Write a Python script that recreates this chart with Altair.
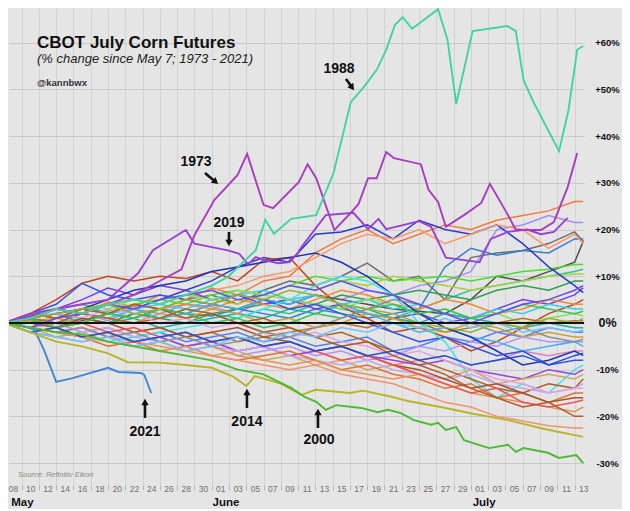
import json
import altair as alt
import pandas as pd

# ---------------- data ----------------
GRID_DAYS = [0, 3, 6, 9, 12, 15, 18, 21, 24, 27, 30, 33, 36, 39, 42, 45, 48, 51, 54, 57, 60, 63, 66, 67]

BACKGROUND = {
    1974: [0, 1.5, 3, 2, 4.5, 3.5, 6, 5, 7.5, 6, 9, 10, 15, 18, 20, 17, 19, 21, 20, 22, 23, 24, 26, 26],
    1975: [0, -1, 1, 2, 0.5, 3, 2, 4, 3.5, 2, 5, 4, 6, 5, 7, 6, 8, 9, 11, 20, 21, 23, 21.5, 21.5],
    1976: [0, 2, 1, 3, 2, 4, 3, 5, 6, 4, 7, 9, 8, 10, 12.8, 9, 10, 5, 14, 15, 15.5, 17, 19.5, 17.5],
    1977: [0, 1, -1, 0.5, 2, 1, 3, 2, 4, 3, 5, 4, 6, 5, 4, 3, 2.5, 2, 5, 10, 9, 11, 13, 17.5],
    1978: [0, 1, 2, 0, 2, 1, 3, 2, 1.5, 3, 2, 1, 3, 2, 1, 2, 3, 12, 16, 14.5, 15.5, 15, 18, 18],
    1979: [0, 1, 2, 3, 2.5, 4, 5, 4, 6, 7, 6, 8, 10, 9, 10, 9, 9.5, 10, 9, 10, 11, 11.5, 12.5, 12.5],
    1980: [0, -1, 0, 1, 0, 2, 1, 3, 2, 1, 3, 2, 4, 3, 2, 1, 3, 5, 7, 8, 9, 10, 11, 11.5],
    1981: [0, 2, 1, 3, 4, 3, 5, 6, 5, 4, 6, 8, 7, 9, 8, 10, 9, 8, 7, 8, 9, 10, 10.5, 10.5],
    1982: [0, 0.5, -1, 1, 0, 2, 1, 0, 2, 3, 4, 5, 4, 6, 5, 6, 7, 6, 5, 7, 8, 7, 9, 9],
    1983: [0, 1.5, 3, 5, 7.5, 6, 8, 7, 5, 6, 4, 5, 3, 4, 2, 1, 2, 0, 1, 3, 5, 4, 6, 7.5],
    1984: [0, 1, 3, 2, 4, 3, 5, 7, 9, 12, 14, 13, 19, 19.5, 21, 18, 22, 20, 19, 21, 17, 12, 8, 6.5],
    1985: [0, 2, 5, 8.5, 10, 9, 10, 9.5, 11, 9, 13.5, 14, 8, 3.5, 1, -2, -1, -3, -6, -4, -1, 2, 4, 5],
    1986: [0, -1, 1, 0, 2, 1, 3, 4, 3, 5, 4, 3, 5, 7, 6, 4, 3, 5, 4, 2, 3, 5, 4, 4],
    1987: [0, 1, 0, 2, 1, 3, 4, 3, 5, 6, 7, 5, 6, 4, 5, 3, 4, 2, 1, 3, 2, 4, 3, 3],
    1989: [0, 2, 3, 4, 3, 5, 4, 6, 5, 7, 6, 5, 4, 3, 5, 4, 2, 3, 1, 2, 0, 1, 2, 1.5],
    1990: [0, -1, -2, -1, -3, -2, -1, -3, -2, -4, -3, -2, -1, 0, -1, 1, 0, -2, -1, 0, 1, 0, 0.5, 0.5],
    1991: [0, 1, 2, 1, 0, 1, -1, 0, 1, 2, 1, 3, 2, 4, 3, 1, 0, 2, 1, 0, -1, 0, -1, -1],
    1992: [0, -1, 0, -2, -1, -3, -2, -4, -3, -2, -4, -3, -5, -4, -3, -6, -5, -3, -4, -2, -3, -1, -2, -2],
    1993: [0, 0.5, 1, 2, 1, 0, 2, 1, 3, 2, 0, 1, -1, 0, 2, 1, -1, -2, 0, -1, -3, -2, -3, -3],
    1994: [0, -2, -3, -4, -3, -5, -4, -6, -5, -7, -6, -5, -7, -6, -8, -7, -5, -6, -4, -5, -3, -4, -4, -4],
    1995: [0, 1, 3, 4, 2, 3, 1, 2, 4, 3, 5, 4, 6, 4, 2, 0, -2, -1, -3, -4, -6, -5, -4, -5],
    1996: [0, -1, -2, -1, -3, -4, -3, -5, -4, -6, -5, -7, -6, -8, -7, -9, -8, -7, -9, -8, -6, -7, -6, -6],
    1997: [0, 1, 2, 3, 5, 7, 8, 9, 11, 12, 13, 14, 15, 13, 10, 6, 2, -1, -3, -6, -9, -8, -6, -7],
    1998: [0, 2, 4, 8.5, 6, 5, 6, 5, 4, 6, 5, 3, 4, 2, 0, -2, -4, -3, -5, -7, -6, -9, -8, -8],
    1999: [0, -2, -3, -2, -4, -3, -2, -1, 0, 1, 3, 5, 8, 10, 9, 6, 0, -4, -12, -16, -13, -15, -10, -9],
    2001: [0, -1, -2, -3, -2, -4, -3, -5, -4, -6, -5, -7, -6, -5, -7, -8, -9, -8, -10, -11, -12, -10, -11, -10],
    2002: [0, -1, -3, -2, -4, -5, -4, -6, -7, -6, -8, -7, -9, -8, -10, -9, -11, -12, -10, -13, -12, -11, -12, -11],
    2003: [0, 1, 0, 2, 1, 0, 1, 3, 2, 0, 1, -1, -3, -2, -4, -6, -8, -10, -12, -14, -15, -13, -14, -12],
    2004: [0, -1, 0, -2, -1, -3, -4, -3, -5, -6, -5, -7, -8, -9, -8, -10, -11, -12, -11, -13, -14, -15, -14, -13],
    2005: [0, 1, 2, 1, 3, 2, 0, 1, -1, 0, -2, -3, -2, -4, -5, -7, -6, -8, -10, -12, -13, -15, -14, -14],
    2006: [0, -2, -1, -3, -5, -4, -6, -5, -7, -8, -7, -6, -8, -10, -9, -11, -12, -14, -13, -16, -15, -17, -15, -15],
    2007: [0, 0, -1, 1, 0, -2, -1, -3, -2, -1, -3, -4, -6, -5, -7, -9, -10, -12, -14, -13, -15, -17, -16, -16],
    2008: [0, 2, 3, 2, 4, 5, 4, 6, 7, 8, 10, 11, 14, 17, 19, 18, 20, 17, 19, 21, 20, 16, 19, 17],
    2009: [0, -1, -2, -3, -2, -4, -5, -6, -5, -7, -8, -9, -8, -10, -11, -12, -11, -13, -15, -16, -17, -18, -19, -18],
    2010: [0, 1, -1, 0, -2, -1, -3, -2, -4, -3, -5, -4, -6, -8, -7, -9, -11, -13, -15, -14, -17, -18, -17, -16.5],
    2011: [0, 2, 1, 3, 2, 4, 3, 1, 2, 0, -2, -1, -3, -5, -4, -7, -9, -11, -14, -16, -18, -17, -20, -20],
    2012: [0, -1, -2, -3, -4, -5, -6, -5, -7, -8, -9, -10, -9, -11, -12, -13, -15, -17, -18, -20, -21, -22, -22.5, -22.5],
    2013: [0, 1, -1, 0, 2, 1, 3, 2, 0, 1, -1, 0, 2, 1, 3, 4, 2, 3, 1, 2, 4, 3, 2, 2.5],
    2015: [0, -1, -2, -1, -3, -2, -4, -3, -5, -4, -2, -3, -1, 1, 3, 5, 4, 2, 0, -2, -1, -3, -4, -3.5],
    2016: [0, -1, 1, 2, 4, 3, 5, 6, 7, 5, 6, 8, 7, 9, 7, 6, 4, 2, 0, 2, 4, 5, 7, 8],
    2017: [0, -2, -1, -3, -2, -4, -3, -2, -4, -3, -5, -4, -6, -5, -7, -6, -8, -7, -9, -8, -7, -9, -7, -6.5],
    2018: [0, 1, 2, 3, 4, 2, 3, 5, 4, 6, 5, 7, 6, 4, 3, 2, 0, -1, -2, 0, -1, 1, 0, 1],
    2020: [0, -2, -3, -4, -3, -5, -4, -6, -5, -3, -4, -2, -3, -1, -2, 0, -1, 1, -1, 0, -2, -1, -2, -1.5],
}

DAYS_2021 = [0, 2, 3.5, 4.6, 6, 7.9, 10, 12, 13.2, 15.8, 16.2, 17]
PCT_2021 = [0, -0.5, -1.5, -5.8, -12.6, -11.8, -10.7, -9.6, -10.5, -10.7, -11.1, -15.0]

DAYS_2014 = [0, 3, 6, 9, 12, 14.3, 18, 21, 24, 26.5, 28, 29, 32, 34.4, 36, 40, 41.5, 44.8, 46.7,
             50.5, 54.4, 58.3, 62.5, 67]
PCT_2014 = [0, -2, -4, -5, -6.5, -8.4, -8.5, -9, -9.6, -11.5, -13.5, -11.4, -13, -15.4, -14.3, -15,
            -14.5, -15.8, -16.7, -18, -19.5, -20.8, -22.7, -24.4]

DAYS_2000 = [0, 3, 6, 9, 12, 15, 18, 21, 24, 27, 30, 33.2, 34.7, 36.1, 37.2, 38.4, 41.3, 43.2, 44.4,
             45.9, 47.4, 49.4, 50.2, 51.1, 52.3, 53.2, 56.1, 58.3, 59.2, 60.1, 62.9, 64.2, 66.2, 67]
PCT_2000 = [0, -1, -2, -2.5, -4, -5, -6, -7, -8, -10, -11, -13.9, -15.8, -16.9, -18.6, -17.6, -18.2,
            -19.1, -18.6, -19.3, -20.8, -21.8, -21.4, -22.9, -22.3, -25.1, -26.8, -26.1, -27.6, -26.8,
            -27.8, -28.9, -28.3, -30]

DAYS_2019 = [0, 3, 6, 9, 12, 15.5, 17.2, 21, 22, 23.3, 26, 27.2, 28.2, 29.1, 30, 31.7, 32.8, 33.8,
             34.5, 37.2, 40.4, 42.1, 43.3, 44.2, 48, 49.4, 51.1, 53, 55, 56.3, 58.3, 60.5, 62.1, 63.6, 65.2]
PCT_2019 = [0, 2, 3, 4, 5, 10.7, 15.6, 19.9, 17, 16.5, 15.5, 14.8, 12.6, 14.1, 13.5, 12.8, 13.0, 14.6,
            16.5, 23.1, 23.6, 20.1, 22.3, 20.1, 21.8, 20.6, 14, 13.5, 13, 18, 19.5, 20, 19, 19.5, 22.5]

DAYS_1973 = [0, 3, 6, 9, 12, 15, 17.5, 20.5, 22, 24.3, 27, 28.1, 30, 31.1, 34.1, 35.1, 36.1, 38.2,
             40.1, 41, 42.1, 43.1, 44.2, 45.1, 48.2, 49.1, 50.2, 51.1, 53.2, 55.2, 56.2, 58.3, 59.2,
             62.1, 63.6, 65.2, 66.3]
PCT_1973 = [0, 1, 3, 2, 4, 6, 8.5, 11.5, 18.8, 26.3, 31.7, 36.2, 25.3, 24.6, 30.2, 34, 31, 19.9,
            23.6, 25.5, 31, 31, 36.6, 35.3, 34, 28.5, 25.9, 20.6, 23.1, 25.7, 29.8, 23.1, 19.9, 19.9,
            21.6, 29.1, 36.4]

DAYS_1988 = [0, 3, 6, 9, 12, 15, 18, 21, 24, 25.9, 29.1, 30.2, 31.2, 33.2, 36.1, 38.1, 40.1, 41.6,
             43.1, 44.2, 45.2, 46.1, 47.2, 50.2, 51.3, 52.3, 54.2, 58.2, 59.2, 60.1, 61.3, 64.2, 65.3,
             66.3, 67]
PCT_1988 = [0, 1, 3, 2, 4, 5, 4, 6, 8, 9.9, 15.6, 22.1, 19.1, 22.3, 23.1, 32.1, 47.3, 50.5, 54.2,
            58.5, 63.8, 65.5, 63.0, 67.2, 60.6, 46.9, 62.5, 63.6, 62.5, 52.0, 47.1, 36.8, 45.6, 58.5,
            59.3]

HIGHLIGHT = {
    2021: (DAYS_2021, PCT_2021),
    2014: (DAYS_2014, PCT_2014),
    2000: (DAYS_2000, PCT_2000),
    2019: (DAYS_2019, PCT_2019),
    1973: (DAYS_1973, PCT_1973),
    1988: (DAYS_1988, PCT_1988),
}

COLORS = {
    1973: "#a83cc0", 1974: "#f07a3a", 1975: "#a68cf2", 1976: "#6e6e6e", 1977: "#4f4f4f",
    1978: "#2f7fd2", 1979: "#45e025", 1980: "#2fc49c", 1981: "#a6d23c", 1982: "#2f9f52",
    1983: "#7a3de2", 1984: "#2b3ccc", 1985: "#c2441f", 1986: "#f08a2e", 1987: "#35cde8",
    1988: "#3fd4a2", 1989: "#84e064", 1990: "#b8702e", 1991: "#1fb0a2", 1992: "#5282f2",
    1993: "#c9a032", 1994: "#b394f2", 1995: "#40b2f2", 1996: "#e07fc4", 1997: "#2233b3",
    1998: "#3352e6", 1999: "#3ee4ec", 2000: "#4cba34", 2001: "#9244d4", 2002: "#d2a462",
    2003: "#b06020", 2004: "#c4a6f2", 2005: "#e2a2e2", 2006: "#e47030", 2007: "#a3542e",
    2008: "#f79a6a", 2009: "#e5924f", 2010: "#f25252", 2011: "#b15a28", 2012: "#f29072",
    2013: "#39c152", 2014: "#b9b428", 2015: "#8f8f8f", 2016: "#6150f0", 2017: "#2050d2",
    2018: "#93b232", 2019: "#9a40d0", 2020: "#72c2ff", 2021: "#3f86d6",
}

X_LABELS = ["08", "10", "12", "14", "16", "18", "20", "22", "24", "26", "28", "30",
            "01", "03", "05", "07", "09", "11", "13", "15", "17", "19", "21", "23", "25", "27", "29",
            "01", "03", "05", "07", "09", "11", "13"]
Y_TICKS = [-30, -20, -10, 0, 10, 20, 30, 40, 50, 60]

MONTHS = ["May", "June", "July"]
MONTH_DAY = [0.8, 24.1, 54.2]

ANNOT_LABELS = ["1988", "1973", "2019", "2021", "2014", "2000"]
ANNOT_DAY = [38.73, 22.18, 26.0, 16.28, 28.08, 36.42]
ANNOT_PCT = [54.39, 34.48, 21.41, -23.34, -21.2, -25.05]

ARROW_DAY = [39.54, 23.22, 26.0, 16.28, 28.08, 36.3]
ARROW_PCT = [52.25, 32.12, 19.49, -20.34, -18.2, -22.48]
HEAD_DAY = [40.26, 24.46, 26.0, 16.28, 28.08, 36.3]
HEAD_PCT = [50.41, 30.19, 17.13, -16.92, -14.78, -19.06]
HEAD_ANGLE = [144, 130, 180, 0, 0, 0]

# ---------------- layout ----------------
W, H = 575, 477
FONT = "Liberation Sans"
X_DOMAIN = [0.54, 67.09]
Y_DOMAIN = [-34.7, 67.45]

xs = alt.Scale(domain=X_DOMAIN, nice=False, zero=False)
ys = alt.Scale(domain=Y_DOMAIN, nice=False, zero=False)

even_cond = {"condition": {"test": "datum.value % 2 == 0", "value": 1}, "value": 0}
AX_X = alt.Axis(
    values=list(range(1, 68)),
    labelExpr="datum.value % 2 == 1 ? " + json.dumps(X_LABELS) + "[(datum.value - 1) / 2] : ''",
    grid=True, gridColor="#d3d3d3", gridOpacity=even_cond,
    ticks=True, tickColor="#b5b5b5", tickSize=5, tickOpacity=even_cond,
    domain=False, labelFont=FONT, labelFontSize=8.5, labelColor="#707070",
    labelPadding=-6, labelAngle=0, labelOverlap=False, labelFlush=False, title=None,
)
AX_Y = alt.Axis(
    orient="right", values=Y_TICKS,
    labelExpr="datum.value > 0 ? '+' + datum.value + '%' : datum.value + '%'",
    grid=True, gridColor="#c9c9c9", ticks=False, domain=False,
    labelFont=FONT, labelFontWeight="bold", labelColor="#111111",
    labelFontSize={"condition": {"test": "datum.value == 0", "value": 12.5}, "value": 9.5},
    labelAlign="center", labelPadding=23, title=None,
)

year_list = sorted(COLORS)
color_enc = alt.Color("year:N", scale=alt.Scale(domain=[str(y) for y in year_list],
                                                range=[COLORS[y] for y in year_list]), legend=None)

rows = []
for yr, vals in BACKGROUND.items():
    for d, v in zip(GRID_DAYS, vals):
        rows.append({"year": str(yr), "day": d, "pct": v})
bg_df = pd.DataFrame(rows)

rows = []
for i, (yr, (ds, vs)) in enumerate(HIGHLIGHT.items()):
    for d, v in zip(ds, vs):
        rows.append({"year": str(yr), "day": d, "pct": v, "ord": i})
hl_df = pd.DataFrame(rows)

X = lambda: alt.X("day:Q", scale=xs, axis=AX_X)
Y = lambda: alt.Y("pct:Q", scale=ys, axis=AX_Y)

bg = alt.Chart(bg_df).mark_line(strokeWidth=1.5, clip=True).encode(
    x=X(), y=Y(), color=color_enc, detail="year:N")

hl_layers = []
for yr in HIGHLIGHT:
    sub = hl_df[hl_df["year"] == str(yr)]
    hl_layers.append(alt.Chart(sub).mark_line(strokeWidth=1.9, clip=True).encode(
        x=X(), y=Y(), color=color_enc))

zero = alt.Chart(pd.DataFrame({"pct": [0]})).mark_rule(color="#111111", strokeWidth=2).encode(y=Y())

ann_df = pd.DataFrame({"day": ANNOT_DAY, "pct": ANNOT_PCT, "label": ANNOT_LABELS})
ann = alt.Chart(ann_df).mark_text(font=FONT, fontSize=14, fontWeight="bold", color="#111111",
                                  align="center", baseline="middle").encode(x=X(), y=Y(), text="label:N")

arr_df = pd.DataFrame({"day": ARROW_DAY, "pct": ARROW_PCT, "day2": HEAD_DAY, "pct2": HEAD_PCT})
shafts = alt.Chart(arr_df).mark_rule(color="#111111", strokeWidth=2.6).encode(
    x=X(), y=Y(), x2="day2:Q", y2="pct2:Q")

head_df = pd.DataFrame({"day": HEAD_DAY, "pct": HEAD_PCT, "ang": HEAD_ANGLE})
heads = alt.Chart(head_df).mark_point(shape="triangle-up", filled=True, size=55, color="#111111",
                                      opacity=1).encode(
    x=X(), y=Y(), angle=alt.Angle("ang:Q", scale=None))

month_df = pd.DataFrame({"day": MONTH_DAY, "month": MONTHS})
months = alt.Chart(month_df).mark_text(font=FONT, fontSize=11.5, fontWeight="bold", color="#111111",
                                       align="left", baseline="alphabetic").encode(
    x=X(), y=alt.value(H + 21), text="month:N")


def label(text, x, y, size, weight="normal", style="normal", color="#111111"):
    return alt.Chart(alt.Data(values=[{}])).mark_text(
        text=text, font=FONT, fontSize=size, fontWeight=weight, fontStyle=style, color=color,
        align="left", baseline="alphabetic").encode(x=alt.value(x), y=alt.value(y))


texts = [
    label("CBOT July Corn Futures", 28, 40, 17, "bold"),
    label("(% change since May 7; 1973 - 2021)", 28, 55, 13, "normal", "italic", "#222222"),
    label("@kannbwx", 28, 78, 9.5, "bold", "normal", "#333333"),
    label("Source: Refinitiv Eikon", 9, 469, 7.5, "normal", "italic", "#8a8a8a"),
]

chart = alt.layer(bg, *hl_layers, zero, shafts, heads, ann, months, *texts).properties(
    width=W, height=H, background="#e5e5e5",
    padding={"left": 0, "top": 0, "right": 2, "bottom": 0},
).configure_view(strokeWidth=0, fill="#e5e5e5")

chart.save("out.html", embed_options={"renderer": "svg", "actions": False})
